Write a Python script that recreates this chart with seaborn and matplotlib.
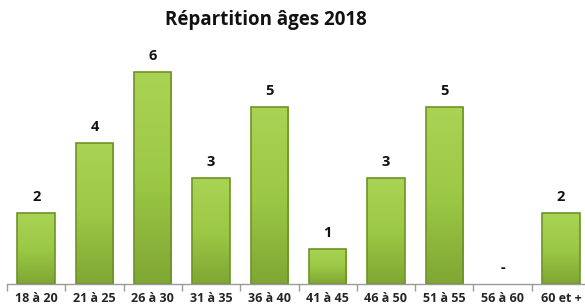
import numpy as np
import pandas as pd
import matplotlib
matplotlib.use("Agg")
import matplotlib.pyplot as plt
from matplotlib.colors import LinearSegmentedColormap
import seaborn as sns

# data
tranches = ["18 à 20", "21 à 25", "26 à 30", "31 à 35", "36 à 40",
            "41 à 45", "46 à 50", "51 à 55", "56 à 60", "60 et +"]
effectifs = [2, 4, 6, 3, 5, 1, 3, 5, 0, 2]

df = pd.DataFrame({"tranche": tranches, "effectif": effectifs})

sns.set_theme(style="white")
plt.rcParams['font.family'] = ['Open Sans', 'DejaVu Sans']

fig = plt.figure(figsize=(5.85, 3.08), dpi=100)
ax = fig.add_axes([7 / 585, 24 / 308, 583 / 585, 244 / 308])

sns.barplot(data=df, x="tranche", y="effectif", ax=ax, color="#96c43f",
            width=0.64, linewidth=0, saturation=1)

# vertical gradient inside each bar (lighter on top, darker near the base)
grad = LinearSegmentedColormap.from_list("g", ["#7fa734", "#9cc945", "#a9d354"])
for patch in list(ax.patches):
    h = patch.get_height()
    if h <= 0:
        continue
    x0 = patch.get_x()
    w = patch.get_width()
    img = ax.imshow(np.linspace(0, 1, 100).reshape(-1, 1), cmap=grad,
                    origin="lower", aspect="auto",
                    extent=[x0, x0 + w, 0, h], zorder=patch.get_zorder() + 0.1)
    img.set_clip_path(patch)
    ax.add_patch(plt.Rectangle((x0, 0), w, h, fill=False, edgecolor="#6f9326",
                               linewidth=1.2, zorder=patch.get_zorder() + 0.2))

for i, v in enumerate(effectifs):
    txt = str(v) if v > 0 else "-"
    ax.text(i, v + 0.26, txt, ha="center", va="bottom",
            fontsize=10.5, fontweight="bold", color="#111111")

ax.set_ylim(0, 6.91)
ax.set_xlim(-0.5, len(tranches) - 0.5)
ax.set_xlabel("")
ax.set_ylabel("")
ax.set_yticks([])
for side in ["top", "right", "left"]:
    ax.spines[side].set_visible(False)
ax.spines["bottom"].set_color("#9a9a9a")
ax.spines["bottom"].set_linewidth(1.0)

ax.tick_params(axis="x", which="major", length=0, pad=6, labelsize=9)
for lab in ax.get_xticklabels():
    lab.set_fontweight("bold")
ax.set_xticks(np.arange(-0.5, len(tranches)), minor=True)
ax.tick_params(axis="x", which="minor", length=5, width=1, color="#9a9a9a",
               direction="out", bottom=True)

fig.text(266 / 585, 1 - 20 / 308, "Répartition âges 2018", ha="center", va="center",
         fontsize=13.5, fontweight="bold", color="#111111")

fig.savefig("out.png", dpi=100)
